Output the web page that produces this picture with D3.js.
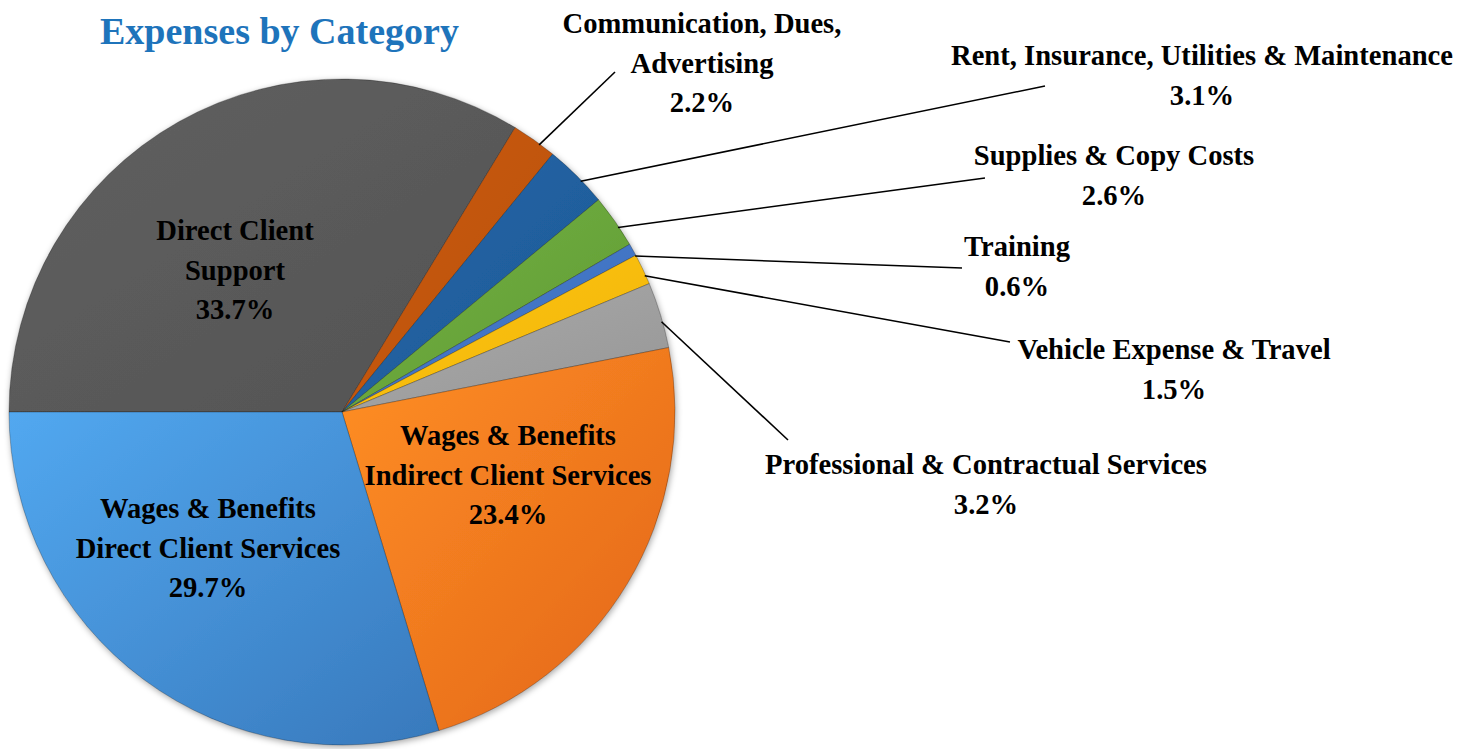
<!DOCTYPE html>
<html lang="en">
<head>
    <meta charset="UTF-8">
    <title>Expenses by Category</title>
    <script src="https://d3js.org/d3.v7.min.js"></script>
    <style>
        body, html {
            margin: 0;
            background: #ffffff;
        }
        text {
            font-family: "Liberation Serif", "Times New Roman", serif;
            font-weight: bold;
        }
    </style>
</head>
<body>
    <svg id="chart"></svg>
    <script>
        // data, clockwise from the left (9 o'clock)
        const categories = [
            "Direct Client Support",
            "Communication, Dues, Advertising",
            "Rent, Insurance, Utilities & Maintenance",
            "Supplies & Copy Costs",
            "Training",
            "Vehicle Expense & Travel",
            "Professional & Contractual Services",
            "Wages & Benefits Indirect Client Services",
            "Wages & Benefits Direct Client Services"
        ];
        const shares = [33.7, 2.2, 3.1, 2.6, 0.6, 1.5, 3.2, 23.4, 29.7];
        const labelLines = [
            ["Direct Client", "Support"],
            ["Communication, Dues,", "Advertising"],
            ["Rent, Insurance, Utilities & Maintenance"],
            ["Supplies & Copy Costs"],
            ["Training"],
            ["Vehicle Expense & Travel"],
            ["Professional & Contractual Services"],
            ["Wages & Benefits", "Indirect Client Services"],
            ["Wages & Benefits", "Direct Client Services"]
        ];

        // slice colours: [light, dark] for the gradient
        const colors = [
            ["#606060", "#545454"],
            ["#cc5c12", "#b8500e"],
            ["#2468aa", "#1c5894"],
            ["#74b244", "#5f9a32"],
            ["#4a7fd0", "#3c6cba"],
            ["#ffc61a", "#f0b400"],
            ["#ababab", "#969696"],
            ["#ff8f24", "#e2651a"],
            ["#52a8f0", "#3879bc"]
        ];

        // label layout: centre x, first baseline y, leader end (if any)
        const labelPos = [
            { x: 235, y: 240 },
            { x: 702, y: 33, lx: 615, ly: 72 },
            { x: 1202, y: 65, lx: 1045, ly: 86 },
            { x: 1114, y: 165, lx: 985, ly: 178 },
            { x: 1017, y: 256, lx: 962, ly: 268 },
            { x: 1174, y: 359, lx: 1010, ly: 342 },
            { x: 986, y: 474, lx: 788, ly: 440 },
            { x: 508, y: 445 },
            { x: 208, y: 518 }
        ];

        const width = 1463, height = 749;
        const cx = 342, cy = 412, radius = 333;
        const lineH = 39.5;

        const svg = d3.select("#chart")
            .attr("width", width)
            .attr("height", height);

        const defs = svg.append("defs");

        const shadow = defs.append("filter")
            .attr("id", "shadow")
            .attr("x", "-10%").attr("y", "-10%")
            .attr("width", "120%").attr("height", "120%");
        shadow.append("feDropShadow")
            .attr("dx", 1).attr("dy", 2)
            .attr("stdDeviation", 3)
            .attr("flood-color", "#000")
            .attr("flood-opacity", 0.35);

        colors.forEach((c, i) => {
            const g = defs.append("linearGradient")
                .attr("id", "grad" + i)
                .attr("x1", "0").attr("y1", "0")
                .attr("x2", "1").attr("y2", "1");
            g.append("stop").attr("offset", "0%").attr("stop-color", c[0]);
            g.append("stop").attr("offset", "100%").attr("stop-color", c[1]);
        });

        // title
        svg.append("text")
            .attr("x", 100)
            .attr("y", 44)
            .attr("font-size", 38)
            .attr("fill", "#1e74bb")
            .text("Expenses by Category");

        const pie = d3.pie()
            .sort(null)
            .value(d => d)
            .startAngle(-Math.PI / 2)
            .endAngle(3 * Math.PI / 2);

        const arcs = pie(shares);

        const arc = d3.arc()
            .innerRadius(0)
            .outerRadius(radius);

        const g = svg.append("g")
            .attr("transform", `translate(${cx},${cy})`);

        g.append("g")
            .attr("filter", "url(#shadow)")
            .selectAll("path")
            .data(arcs)
            .enter().append("path")
            .attr("d", arc)
            .attr("fill", (d, i) => `url(#grad${i})`)
            .attr("stroke", "rgba(0,0,0,0.25)")
            .attr("stroke-width", 1)
            .attr("stroke-linejoin", "round");

        // leader lines
        arcs.forEach((d, i) => {
            const p = labelPos[i];
            if (p.lx === undefined) return;
            const a = (d.startAngle + d.endAngle) / 2 + 0.02;
            const r = radius - 1;
            svg.append("line")
                .attr("x1", cx + r * Math.sin(a))
                .attr("y1", cy - r * Math.cos(a))
                .attr("x2", p.lx)
                .attr("y2", p.ly)
                .attr("stroke", "#000")
                .attr("stroke-width", 1.6);
        });

        // labels
        arcs.forEach((d, i) => {
            const p = labelPos[i];
            const lines = labelLines[i].concat([d3.format(".1f")(shares[i]) + "%"]);
            const t = svg.append("text")
                .attr("text-anchor", "middle")
                .attr("font-size", 28.6)
                .attr("fill", "#000");
            lines.forEach((s, k) => {
                t.append("tspan")
                    .attr("x", p.x)
                    .attr("y", p.y + k * lineH)
                    .text(s);
            });
        });
    </script>
</body>
</html>
